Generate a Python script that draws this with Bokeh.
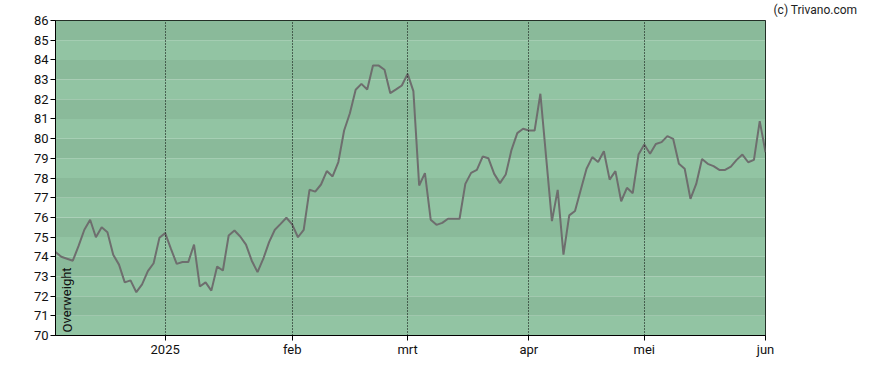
from bokeh.plotting import figure
from bokeh.models import Range1d, FixedTicker, BoxAnnotation, Label, ColumnDataSource, Title
from bokeh.embed import file_html
from bokeh.resources import INLINE

# trading-day index (0 = first session shown) and the plotted values
values = [
    74.24, 74.0, 73.9, 73.8, 74.55, 75.37, 75.88, 74.99, 75.5, 75.25,
    74.1, 73.6, 72.7, 72.8, 72.2, 72.6, 73.27, 73.67, 74.96, 75.2,
    74.4, 73.64, 73.73, 73.73, 74.62, 72.49, 72.7, 72.28, 73.5, 73.3,
    75.08, 75.33, 75.03, 74.62, 73.8, 73.22, 73.9, 74.74, 75.37, 75.67,
    75.98, 75.64, 74.99, 75.37, 77.4, 77.31, 77.67, 78.35, 78.08, 78.81,
    80.41, 81.29, 82.48, 82.78, 82.5, 83.71, 83.71, 83.5, 82.31, 82.5,
    82.7, 83.29, 82.41, 77.62, 78.25, 75.88, 75.62, 75.72, 75.93, 75.93,
    75.93, 77.7, 78.26, 78.41, 79.09, 79.0, 78.21, 77.74, 78.18, 79.43,
    80.28, 80.5, 80.41, 80.41, 82.28, 79.05, 75.81, 77.4, 74.11, 76.1,
    76.32, 77.4, 78.47, 79.06, 78.81, 79.36, 77.92, 78.35, 76.82, 77.5,
    77.23, 79.19, 79.7, 79.23, 79.73, 79.82, 80.13, 79.99, 78.72, 78.47,
    76.94, 77.7, 78.97, 78.72, 78.6, 78.41, 78.41, 78.58, 78.92, 79.19,
    78.8, 78.92, 80.89, 79.31,
]
session = list(range(len(values)))

month_ticks = [19, 41, 61, 82, 102, 123]
month_labels = ["2025", "feb", "mrt", "apr", "mei", "jun"]
y_ticks = list(range(70, 87))

FONT = "Roboto"

p = figure(
    output_backend="svg", toolbar_location=None,
    frame_width=710, frame_height=315,
    min_border_left=55, min_border_top=20, min_border_right=113, min_border_bottom=30,
    x_range=Range1d(0, 123), y_range=Range1d(70, 86),
    background_fill_color="#ffffff", border_fill_color="#ffffff",
)
p.outline_line_color = "#000000"
p.outline_line_width = 1
p.outline_line_alpha = 1

# copyright note, placed in the title panel, shifted right of the frame
p.title = Title(text="(c) Trivano.com", align="left", offset=718, standoff=3,
                text_font=FONT, text_font_size="12px", text_font_style="normal",
                text_color="#222222", vertical_align="top")

# alternating horizontal bands
for k in range(70, 86):
    color = "#92c4a3" if (k % 2 == 0) else "#8aba9a"
    p.add_layout(BoxAnnotation(bottom=k, top=k + 1, fill_color=color, fill_alpha=1,
                               line_alpha=0, level="underlay"))

src = ColumnDataSource(dict(x=session, y=values))
p.line("x", "y", source=src, line_color="#6e6e6e", line_width=2)

# axes
p.xaxis.ticker = FixedTicker(ticks=month_ticks)
p.xaxis.major_label_overrides = {t: l for t, l in zip(month_ticks, month_labels)}
p.xaxis.minor_tick_line_color = None
p.xaxis.major_tick_out = 5
p.xaxis.major_tick_in = 0
p.xaxis.axis_line_color = "#000000"
p.xaxis.major_tick_line_color = "#000000"
p.xaxis.major_label_text_font = FONT
p.xaxis.major_label_text_font_size = "13px"
p.xaxis.major_label_text_color = "#111111"
p.xaxis.major_label_standoff = 1

p.yaxis.ticker = FixedTicker(ticks=y_ticks)
p.yaxis.minor_tick_line_color = None
p.yaxis.major_tick_out = 5
p.yaxis.major_tick_in = 0
p.yaxis.axis_line_color = "#000000"
p.yaxis.major_tick_line_color = "#000000"
p.yaxis.major_label_text_font = FONT
p.yaxis.major_label_text_font_size = "13px"
p.yaxis.major_label_text_color = "#111111"
p.yaxis.major_label_standoff = 2

p.ygrid.grid_line_color = None
p.xgrid.ticker = FixedTicker(ticks=month_ticks)
p.xgrid.grid_line_color = "#000000"
p.xgrid.grid_line_dash = "1 2"
p.xgrid.grid_line_width = 1
p.xgrid.level = "glyph"

p.add_layout(Label(x=0, y=70, x_offset=4, y_offset=3, text="Overweight", angle=1.5708,
                   text_align="left", text_baseline="top", text_font=FONT,
                   text_font_size="13px", text_color="#111111"))

open("out.html", "w").write(file_html(p, INLINE))
